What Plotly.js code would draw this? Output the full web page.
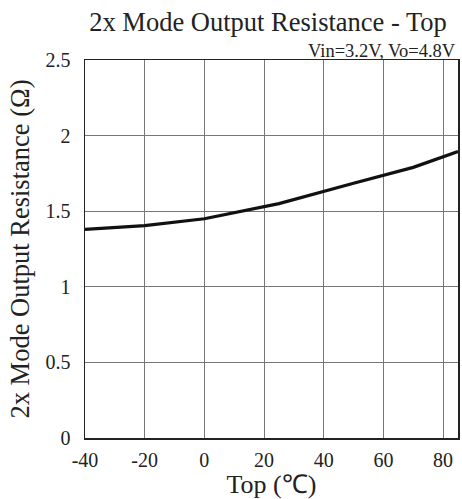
<!DOCTYPE html>
<html>
<head>
<meta charset="utf-8">
<script src="https://cdn.plot.ly/plotly-3.0.1.min.js"></script>
<style>html,body{margin:0;padding:0;background:#fff;}#chart{width:462px;height:499px;}</style>
</head>
<body>
<div id="chart"></div>
<script>
const temperatures = [-40, -20, 0, 25, 50, 70, 85];
const resistance = [1.38, 1.405, 1.45, 1.55, 1.685, 1.79, 1.895];
const xTicks = [-40, -20, 0, 20, 40, 60, 80];
const yTicks = [0, 0.5, 1, 1.5, 2, 2.5];
const titleText = '2x Mode Output Resistance - Top';
const conditionText = 'Vin=3.2V, Vo=4.8V';
const xTitle = 'Top (℃)';
const yTitle = '2x Mode Output Resistance (Ω)';

const font = '"Liberation Serif", "Times New Roman", serif';

const trace = {
  x: temperatures,
  y: resistance,
  type: 'scatter',
  mode: 'lines',
  line: {color: '#111', width: 3.2},
  hoverinfo: 'skip'
};

const layout = {
  width: 462,
  height: 499,
  margin: {l: 85, r: 4, t: 60, b: 61},
  paper_bgcolor: '#fff',
  plot_bgcolor: '#fff',
  showlegend: false,
  font: {family: font, color: '#222'},
  title: {
    text: titleText,
    font: {family: font, size: 26.5, color: '#222'},
    x: 268/462, xanchor: 'center', xref: 'container',
    y: 1 - 12/499, yanchor: 'top', yref: 'container'
  },
  xaxis: {
    range: [-40, 85],
    tickvals: xTicks,
    ticktext: xTicks.map(String),
    showgrid: true,
    gridcolor: '#777',
    gridwidth: 1,
    zeroline: false,
    showline: true,
    linecolor: '#222',
    linewidth: 1.5,
    mirror: true,
    ticks: '',
    ticklabelstandoff: 3,
    tickfont: {family: font, size: 20, color: '#222'},
    title: {text: xTitle, font: {family: font, size: 26, color: '#222'}, standoff: 0}
  },
  yaxis: {
    range: [0, 2.5],
    tickvals: yTicks,
    ticktext: yTicks.map(String),
    showgrid: true,
    gridcolor: '#777',
    gridwidth: 1,
    zeroline: false,
    showline: true,
    linecolor: '#222',
    linewidth: 1.5,
    mirror: true,
    ticks: '',
    ticklabelstandoff: 9,
    tickfont: {family: font, size: 20, color: '#222'},
    title: {text: yTitle, font: {family: font, size: 26.5, color: '#222'}, standoff: 8}
  },
  annotations: [{
    text: conditionText,
    xref: 'paper', yref: 'paper',
    x: 1, y: 1,
    xanchor: 'right', yanchor: 'bottom',
    showarrow: false,
    font: {family: font, size: 18.5, color: '#222'},
    yshift: -3
  }]
};

Plotly.newPlot('chart', [trace], layout, {staticPlot: true, displayModeBar: false});
</script>
</body>
</html>
